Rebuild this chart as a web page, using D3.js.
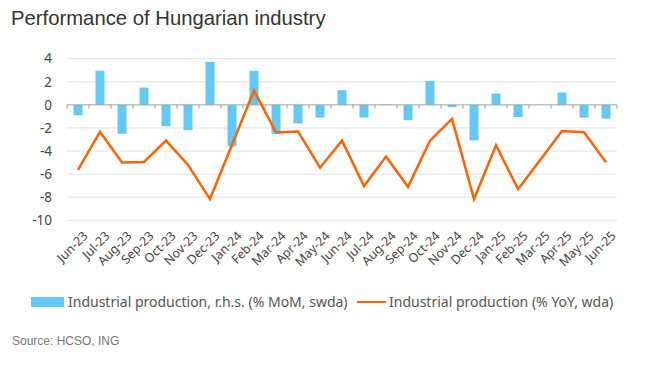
<!DOCTYPE html>
<html><head><meta charset="utf-8">
<script src="https://cdn.jsdelivr.net/npm/d3@7"></script>
<style>body{margin:0;background:#fff}svg{display:block}</style>
</head><body>
<svg id="c" width="650" height="366"></svg>
<script>
const months = ["Jun-23","Jul-23","Aug-23","Sep-23","Oct-23","Nov-23","Dec-23","Jan-24","Feb-24","Mar-24","Apr-24","May-24","Jun-24","Jul-24","Aug-24","Sep-24","Oct-24","Nov-24","Dec-24","Jan-25","Feb-25","Mar-25","Apr-25","May-25","Jun-25"];
const momValues = [-0.9,2.95,-2.5,1.5,-1.85,-2.2,3.73,-3.6,2.95,-2.5,-1.6,-1.1,1.27,-1.1,0.05,-1.33,2.08,-0.2,-3.07,0.98,-1.05,0.0,1.07,-1.1,-1.2];
const yoyValues = [-5.64,-2.34,-5.0,-4.95,-3.1,-5.2,-8.16,-3.45,1.24,-2.4,-2.3,-5.44,-3.1,-7.03,-4.48,-7.09,-3.1,-1.22,-8.16,-3.5,-7.3,-4.8,-2.26,-2.37,-4.97];
const yTicks = [4,2,0,-2,-4,-6,-8,-10];
const titleText = "Performance of Hungarian industry";
const legendLabels = ["Industrial production, r.h.s. (% MoM, swda)","Industrial production (% YoY, wda)"];
const sourceText = "Source: HCSO, ING";

(function(){
const svg = d3.select("#c");
const pL = 67, pR = 617, pT = 58.7, pB = 220.3;
const x = d3.scaleBand().domain(months).range([pL, pR]).paddingInner(0.59).paddingOuter(0.295);
const xb = d3.scaleBand().domain(months).range([pL, pR]);
const y = d3.scaleLinear().domain([-10, 4]).range([pB, pT]);

svg.append("text").attr("x", 11).attr("y", 25).attr("font-family", "Liberation Sans, Arial, sans-serif")
  .attr("font-size", 20.3).attr("fill", "#333").text(titleText);

svg.append("g").selectAll("line").data(yTicks.filter(d => d !== 0)).join("line")
  .attr("x1", pL).attr("x2", pR).attr("y1", d => y(d)).attr("y2", d => y(d))
  .attr("stroke", "#e2e2e2").attr("stroke-width", 1);

svg.append("g").selectAll("text").data(yTicks).join("text")
  .attr("x", 52).attr("y", d => y(d)).attr("dy", "0.35em").attr("text-anchor", "end")
  .attr("font-family", "Noto Sans, sans-serif").attr("font-size", 13.5).attr("fill", "#444")
  .text(d => d);

svg.append("g").selectAll("rect").data(momValues).join("rect")
  .attr("x", (d, i) => x(months[i])).attr("width", x.bandwidth())
  .attr("y", d => y(Math.max(0, d))).attr("height", d => Math.abs(y(d) - y(0)))
  .attr("fill", "#62c8f5");

const axis = svg.append("g");
axis.append("line").attr("x1", pL).attr("x2", pR).attr("y1", y(0)).attr("y2", y(0)).attr("stroke", "#a0a0a0");
axis.selectAll("line.t").data(months.concat(["end"])).join("line").attr("class", "t")
  .attr("x1", (d, i) => pL + i * xb.bandwidth()).attr("x2", (d, i) => pL + i * xb.bandwidth())
  .attr("y1", y(0)).attr("y2", y(0) + 4).attr("stroke", "#a0a0a0");

const line = d3.line().x((d, i) => xb(months[i]) + xb.bandwidth() / 2).y(d => y(d));
svg.append("path").datum(yoyValues).attr("d", line).attr("fill", "none")
  .attr("stroke", "#ff6200").attr("stroke-width", 2.5).attr("stroke-linejoin", "miter");

svg.append("g").selectAll("text").data(months).join("text")
  .attr("transform", d => `translate(${xb(d) + xb.bandwidth() / 2 + 4},${230}) rotate(-45)`)
  .attr("text-anchor", "end").attr("dy", "0.75em")
  .attr("font-family", "Noto Sans, sans-serif").attr("font-size", 12.5).attr("fill", "#444")
  .text(d => d);

const lg = svg.append("g").attr("font-family", "Noto Sans, sans-serif").attr("font-size", 14).attr("fill", "#555");
lg.append("rect").attr("x", 31).attr("y", 297).attr("width", 33).attr("height", 10).attr("fill", "#62c8f5");
lg.append("text").attr("x", 68).attr("y", 307).text(legendLabels[0]);
lg.append("line").attr("x1", 357).attr("x2", 386).attr("y1", 302).attr("y2", 302).attr("stroke", "#ff6200").attr("stroke-width", 2);
lg.append("text").attr("x", 389).attr("y", 307).text(legendLabels[1]);

svg.append("text").attr("x", 12).attr("y", 345).attr("font-family", "Liberation Sans, Arial, sans-serif")
  .attr("font-size", 12).attr("fill", "#777").text(sourceText);
})();
</script>
</body></html>
